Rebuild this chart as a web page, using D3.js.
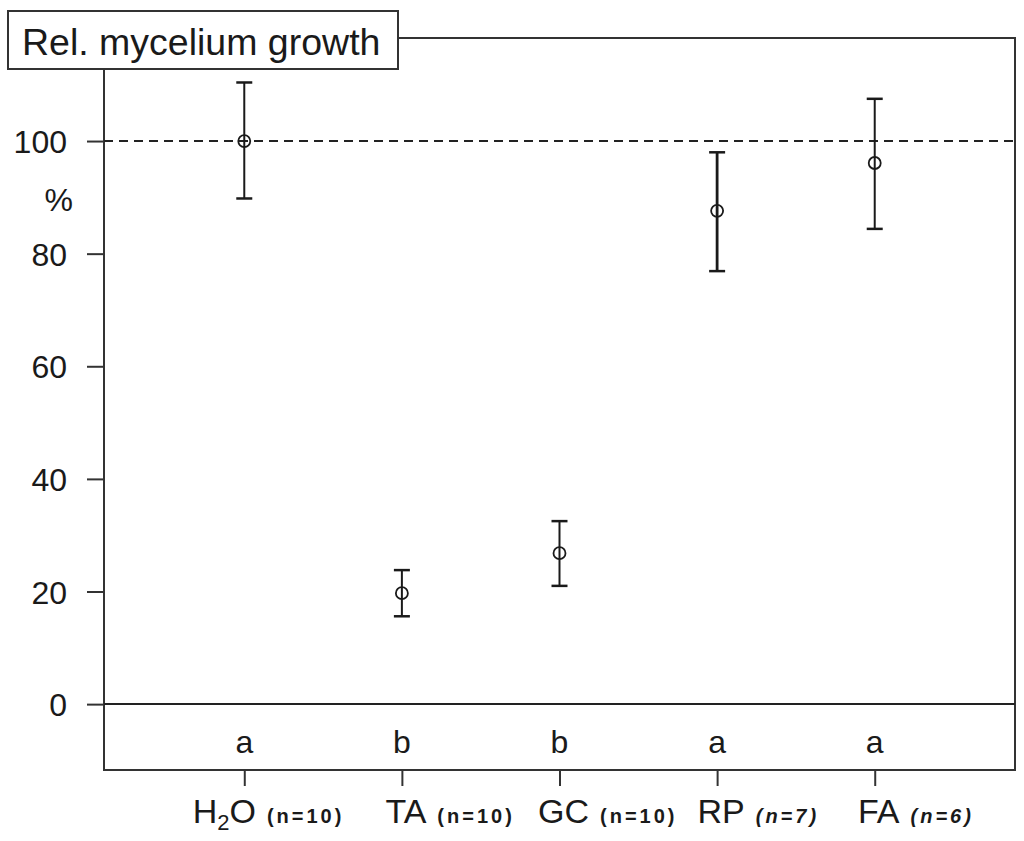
<!DOCTYPE html>
<html>
<head>
<meta charset="utf-8">
<script src="https://cdn.jsdelivr.net/npm/d3@7"></script>
<style>
  body { margin: 0; background: #fff; }
  text { font-family: "Liberation Sans", Arial, sans-serif; fill: #1a1a1a; }
</style>
</head>
<body>
<div id="chart"></div>
<script>
var groups  = ['H2O', 'TA', 'GC', 'RP', 'FA'],
    nLabels = ['(n=10)', '(n=10)', '(n=10)', '(n=7)', '(n=6)'],
    means   = [100, 19.7, 26.8, 87.6, 96.1],
    upper   = [110.4, 23.8, 32.5, 98.0, 107.5],
    lower   = [89.8, 15.6, 21.0, 76.9, 84.4],
    letters = ['a', 'b', 'b', 'a', 'a'],
    yTicks  = [0, 20, 40, 60, 80, 100];

var data = groups.map((g, i) => ({
  g: g, n: nLabels[i], m: means[i], hi: upper[i], lo: lower[i], l: letters[i]
}));

var W = 1024, H = 841,
    pLeft = 104, pRight = 1015, pTop = 38, pBottom = 770;

var x = d3.scalePoint().domain(groups).range([pLeft, pRight]).padding(0.89),
    y = d3.scaleLinear().domain([-11.7, 118.3]).range([pBottom, pTop]);

var svg = d3.select('#chart').append('svg')
    .attr('width', W).attr('height', H);

// plot frame
svg.append('rect')
    .attr('x', pLeft).attr('y', pTop)
    .attr('width', pRight - pLeft).attr('height', pBottom - pTop)
    .attr('fill', 'none').attr('stroke', '#333').attr('stroke-width', 2);

// y axis
var yAxis = svg.append('g')
    .attr('transform', `translate(${pLeft},0)`)
    .call(d3.axisLeft(y).tickValues(yTicks).tickSize(17).tickPadding(20));
yAxis.select('.domain').remove();
yAxis.selectAll('line').attr('stroke', '#333').attr('stroke-width', 2);
yAxis.selectAll('text')
    .attr('font-size', 32).attr('fill', '#222')
    .attr('dy', '0.36em')
    .style('font-family', '"Liberation Sans", Arial, sans-serif');

svg.append('text')
    .attr('x', 73).attr('y', y(100) + 70)
    .attr('text-anchor', 'end')
    .attr('font-size', 32)
    .text('%');

// x axis ticks
var xAxis = svg.append('g')
    .attr('transform', `translate(0,${pBottom})`)
    .call(d3.axisBottom(x).tickSize(16).tickFormat(''));
xAxis.select('.domain').remove();
xAxis.selectAll('line').attr('stroke', '#333').attr('stroke-width', 2);

// category labels
var lab = svg.append('g').selectAll('g').data(data).enter().append('g');
lab.each(function (d) {
  var g = d3.select(this);
  var main = g.append('text')
      .attr('y', 823)
      .attr('font-size', 34);
  if (d.g === 'H2O') {
    main.append('tspan').text('H');
    main.append('tspan').attr('font-size', 22).attr('dy', 7).text('2');
    main.append('tspan').attr('dy', -7).text('O');
  } else {
    main.text(d.g);
  }
  var w = main.node().getComputedTextLength();
  var x0 = x(d.g) - w / 2 + (d.g === 'H2O' ? -20 : 4);
  main.attr('x', x0);
  g.append('text')
      .attr('x', x0 + w + 11)
      .attr('y', 823)
      .attr('font-size', 20)
      .attr('font-weight', 'bold')
      .attr('letter-spacing', 3)
      .attr('font-style', d.n === '(n=10)' ? 'normal' : 'italic')
      .text(d.n);
});

// zero line and 100% reference
svg.append('line')
    .attr('x1', pLeft).attr('x2', pRight)
    .attr('y1', y(0)).attr('y2', y(0))
    .attr('stroke', '#222').attr('stroke-width', 2);

svg.append('line')
    .attr('x1', pLeft).attr('x2', pRight)
    .attr('y1', y(100)).attr('y2', y(100))
    .attr('stroke', '#222').attr('stroke-width', 2)
    .attr('stroke-dasharray', '9,6');

// significance letters
svg.append('g').selectAll('text').data(data).enter()
  .append('text')
    .attr('x', d => x(d.g))
    .attr('y', 753)
    .attr('text-anchor', 'middle')
    .attr('font-size', 32)
    .text(d => d.l);

// error bars + means
var bars = svg.append('g').selectAll('g').data(data).enter().append('g')
    .attr('stroke', '#1a1a1a').attr('fill', 'none');

bars.append('circle')
    .attr('cx', d => x(d.g)).attr('cy', d => y(d.m))
    .attr('r', 6).attr('stroke-width', 1.8);

bars.append('line')
    .attr('x1', d => x(d.g)).attr('x2', d => x(d.g))
    .attr('y1', d => y(d.hi)).attr('y2', d => y(d.lo))
    .attr('stroke-width', d => d.g === 'RP' ? 2.8 : 2);

bars.selectAll('.cap').data(d => [[d.g, d.hi], [d.g, d.lo]]).enter()
  .append('line')
    .attr('class', 'cap')
    .attr('x1', d => x(d[0]) - 8).attr('x2', d => x(d[0]) + 8)
    .attr('y1', d => y(d[1])).attr('y2', d => y(d[1]))
    .attr('stroke-width', 2.5);

// title box
svg.append('rect')
    .attr('x', 8).attr('y', 11)
    .attr('width', 390).attr('height', 58)
    .attr('fill', '#fff').attr('stroke', '#333').attr('stroke-width', 2);

svg.append('text')
    .attr('x', 22).attr('y', 55)
    .attr('font-size', 37.5)
    .text('Rel. mycelium growth');
</script>
</body>
</html>
